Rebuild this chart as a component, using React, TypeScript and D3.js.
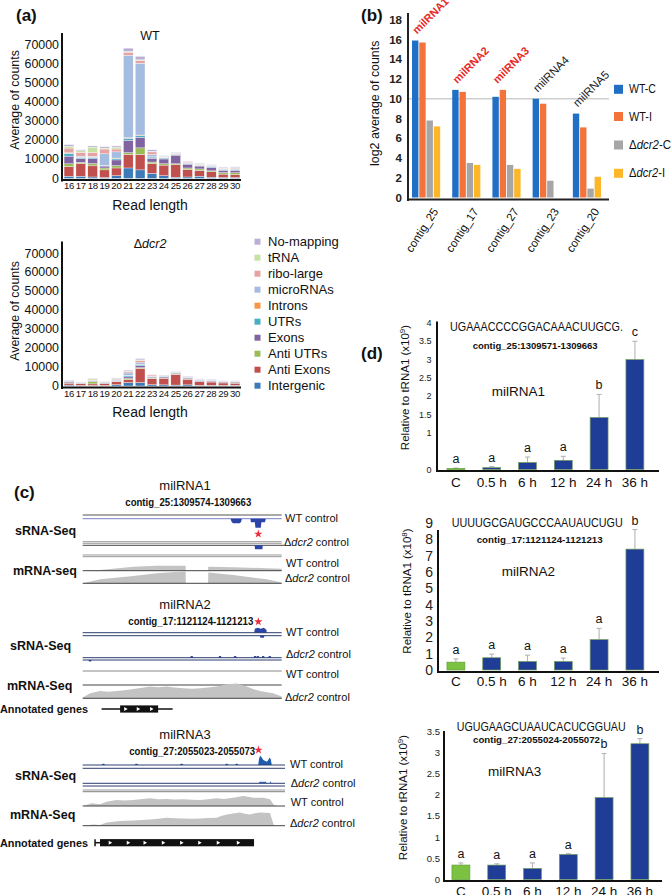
import React from "react";
import * as d3 from "d3";

const FONT = "'Liberation Sans', Arial, Helvetica, sans-serif";

// ---------------- Panel (a) data ----------------
const readLengths = ["16","17","18","19","20","21","22","23","24","25","26","27","28","29","30"];
const stackKeys = ["Intergenic","Anti Exons","Anti UTRs","Exons","UTRs","Introns","microRNAs","ribo-large","tRNA","No-mapping"];
const stackColors = ["#3d7ab8","#c0504d","#9bbb59","#8064a2","#4bacc6","#f79646","#a4bce0","#e6a3a3","#c7e0a4","#b9afd6"];

const wtIntergenic = [1200,1200,800,500,1500,5500,4500,2700,1500,700,800,1200,700,500,500];
const wtAntiExons = [5000,6500,5800,4000,4000,7000,8000,5000,5500,6500,4000,3000,2800,1800,1500];
const wtAntiUTRs = [1500,700,1200,1000,1200,1000,3500,900,700,500,700,800,500,800,1000];
const wtExons = [4000,2000,2500,1000,3000,6500,5500,2000,2500,4500,2000,1500,1800,1200,1300];
const wtUTRs = [1200,700,500,300,800,1000,1000,600,500,400,400,400,400,400,500];
const wtIntrons = [200,100,100,100,200,300,200,100,100,100,100,100,100,100,100];
const wtMicroRNAs = [300,500,600,6000,3200,43000,37500,1200,300,200,300,300,300,300,400];
const wtRiboLarge = [2500,2000,2200,2500,1500,1700,1500,1400,300,300,300,200,200,200,300];
const wtTRNA = [1000,800,2700,500,1000,400,300,300,200,100,100,100,100,100,100];
const wtNoMapping = [800,500,600,700,600,1700,1800,800,300,300,400,400,300,400,400];

const dcrIntergenic = [500,300,300,300,700,1800,1800,700,600,500,600,400,400,300,400];
const dcrAntiExons = [1000,900,800,900,1500,1500,7500,3200,3500,5500,3000,1800,1700,1300,1100];
const dcrAntiUTRs = [200,100,1200,200,300,600,400,300,200,300,300,200,200,200,300];
const dcrExons = [700,200,300,300,400,900,1000,500,600,500,500,500,400,400,400];
const dcrUTRs = [100,100,100,100,200,800,600,200,200,200,200,200,200,100,200];
const dcrIntrons = [0,0,0,0,0,100,100,0,0,0,0,0,0,0,0];
const dcrMicroRNAs = [200,100,200,200,300,1200,900,300,200,200,100,200,200,200,200];
const dcrRiboLarge = [200,100,300,300,400,700,1200,600,200,200,200,200,200,200,100];
const dcrTRNA = [0,0,600,100,100,300,300,100,100,0,0,100,0,0,0];
const dcrNoMapping = [200,200,200,100,300,500,700,300,200,200,200,200,200,200,200];

const countTicks = [0,10000,20000,30000,40000,50000,60000,70000];

// ---------------- Panel (b) data ----------------
const contigs = ["contig_25","contig_17","contig_27","contig_23","contig_20"];
const bSeries = ["WT-C","WT-I","dcr2-C","dcr2-I"];
const bColors = ["#1f6fc5","#f4733b","#a6a6a6","#fdb628"];
const wtC = [15.9,10.9,10.2,10.0,8.5];
const wtI = [15.7,10.7,10.9,9.5,7.1];
const dcrC = [7.8,3.5,3.3,1.7,0.9];
const dcrI = [7.2,3.3,2.9,0,2.1];
const milLabels = ["milRNA1","milRNA2","milRNA3","milRNA4","milRNA5"];
const milHighlight = [true,true,true,false,false];
const log2Ticks = [0,2,4,6,8,10,12,14,16,18];

// ---------------- Panel (c) data (coverage: [position %, coverage]) ----------------
const m1sWT: [number,number][] = [[74.3,0],[74.8,3],[75.5,4.5],[79,4.5],[79.6,3],[80,0],[84.3,0],[84.5,3.5],[86.5,3.5],[86.8,9],[89.5,9],[89.8,3.5],[91.6,3.5],[92,0]];
const m1sDcr: [number,number][] = [[86.4,0],[86.6,4],[90.3,4],[90.5,0]];
const m1mWT: [number,number][] = [[0,0],[8.7,0.7],[25.5,4],[37,5],[51.7,5],[51.8,0],[63,0],[63.1,4],[75.7,3.5],[92.5,2.5],[100,2]];
const m1mDcr: [number,number][] = [[0,0],[8.7,4],[25.5,7.3],[37.2,10],[50.6,11.7],[51.7,11.7],[51.8,0],[63,0],[63.1,10.7],[75.7,8.3],[92.5,4],[100,0.7]];

const m2sWTup: [number,number][] = [[86.2,0],[86.5,4],[88,5],[89.5,4],[91,5],[92.3,3],[92.5,0]];
const m2sWTdown: [number,number][] = [[89,0],[89.3,2],[91,2],[91.3,0]];
const m2sDcrBumps = [54.8,69,76.6,86.6,88,90.7,94];
const m2sDcrDownBumps = [3.7];
const m2mWT: [number,number][] = [[0,2],[100,2]];
const m2mDcr: [number,number][] = [[0,0.7],[3.7,5],[8.7,7.3],[13,6.5],[17,7.3],[21,8],[25.5,9.3],[30,10.5],[33.8,11.7],[38,11],[42.2,11.7],[46,10.8],[50.6,10],[55,9.5],[59,10],[63,10.8],[67.3,11.7],[72.4,14],[77.4,14.7],[82.4,11.7],[86,9],[89.1,7.3],[95.8,5],[100,1.7]];

const m3sWT: [number,number][] = [[88.2,0],[88.6,6],[89.1,9.3],[89.8,8],[90.8,5],[92.5,3.3],[93.3,5],[93.8,7.3],[94.5,6],[95,0]];
const m3sWTBumps = [10.4,27,49.7,72.4,77.4];
const m3sDcr: [number,number][] = [[88.5,0],[88.8,1.5],[92,1.5],[92.5,0],[94,0],[94.3,2.2],[94.8,0]];
const m3mWT: [number,number][] = [[0,0],[4.5,2.7],[8.7,1.7],[12,4.3],[17,6],[21,5.5],[25.5,6],[30,7],[33.8,7.7],[38,6.8],[42.2,7],[46,6.5],[50.6,6.7],[55,6.2],[59,6],[63,6.8],[67.3,7.7],[71,7],[75.7,8.3],[80.7,10],[85.8,8.3],[90.8,8.3],[94.1,6.7],[96.1,1],[97.5,0]];
const m3mDcr: [number,number][] = [[0,0],[5.4,1.3],[8.7,0.7],[12,3.3],[18.8,4.7],[25.5,5.3],[30,5.8],[33.8,6.3],[38,7],[42.2,8],[46,7.5],[50.6,7.3],[55,7],[59,7.3],[63,7.6],[67.3,8],[70,10],[72.4,11.3],[75.7,12.3],[79,13.3],[81.5,12],[84,11.3],[86.5,12.5],[89.1,13.3],[94.1,12.7],[95.5,4],[96.1,0]];

const gene2Line = [9.5,45.2];
const gene2Box = [18.8,37.9];
const gene2Arrows = [21.6,27.9,34.6];
const gene3Line = [6.2,8.7];
const gene3Box = [8.7,86.1];
const gene3Arrows = [13.8,22.9,31.3,40.5,49.7,58.8,68.1,78.2];

// ---------------- Panel (d) data ----------------
const timepoints = ["C","0.5 h","6 h","12 h","24 h","36 h"];
const mil1Mean = [0.03,0.05,0.19,0.25,1.42,3.0];
const mil1Sd = [0.01,0.03,0.15,0.11,0.63,0.5];
const mil1Letters = ["a","a","a","a","b","c"];
const mil2Mean = [0.48,0.75,0.52,0.52,1.86,7.4];
const mil2Sd = [0.2,0.22,0.39,0.21,0.69,1.2];
const mil2Letters = ["a","a","a","a","a","b"];
const mil3Mean = [0.34,0.34,0.26,0.59,1.93,3.2];
const mil3Sd = [0.05,0.03,0.13,0.02,1.04,0.12];
const mil3Letters = ["a","a","a","a","b","b"];
const mil1Ticks = [0,1,1.5,2,2.5,3,3.5,4];
const mil2Ticks = [0,1,2,3,4,5,6,7,8,9];
const mil3Ticks = [0,0.5,1,1.5,2,2.5,3,3.5];

// ======================================================
function Dcr({ pre = "", post = "" }: { pre?: string; post?: string }) {
  return (<>{pre}Δ<tspan fontStyle="italic">dcr2</tspan>{post}</>);
}

function StackedPanel({ series, yZero, yTop, axisTop, title, titleY, tickY, readY, ylabY }: any) {
  const x = d3.scaleBand().domain(readLengths).range([63, 241]).paddingInner(0.18).paddingOuter(0.09);
  const y = d3.scaleLinear().domain([0, 70000]).range([yZero, yTop]);
  const rows = readLengths.map((r, i) => {
    const o: any = { len: r };
    stackKeys.forEach((k, j) => { o[k] = series[j][i]; });
    return o;
  });
  const stacked = d3.stack<any>().keys(stackKeys)(rows);
  return (
    <g>
      {stacked.map((layer, li) => (
        <g key={li} fill={stackColors[li]}>
          {layer.map((d, i) => {
            const h = y(d[0]) - y(d[1]);
            if (h <= 0) return null;
            return <rect key={i} x={x(readLengths[i])} y={y(d[1])} width={x.bandwidth()} height={h} stroke="#fff" strokeWidth={0.35} />;
          })}
        </g>
      ))}
      <line x1={62} x2={62} y1={axisTop} y2={yZero + 3} stroke="#111" strokeWidth={2} />
      <line x1={61} x2={241} y1={yZero + 1.5} y2={yZero + 1.5} stroke="#111" strokeWidth={2} />
      {countTicks.map(t => (
        <text key={t} x={59} y={y(t)} textAnchor="end" dominantBaseline="central" fontSize={12.4}>{t}</text>
      ))}
      {readLengths.map(r => (
        <text key={r} x={(x(r) as number) + x.bandwidth() / 2} y={tickY} textAnchor="middle" fontSize={9.6} letterSpacing={-0.3}>{r}</text>
      ))}
      <text x={150} y={readY} textAnchor="middle" fontSize={14}>Read length</text>
      <text transform={`translate(19,${ylabY}) rotate(-90)`} textAnchor="middle" fontSize={12.4}>Average of counts</text>
      <text x={150} y={titleY} textAnchor="middle" fontSize={12.5}>{title}</text>
    </g>
  );
}

function PanelA() {
  const wt = [wtIntergenic, wtAntiExons, wtAntiUTRs, wtExons, wtUTRs, wtIntrons, wtMicroRNAs, wtRiboLarge, wtTRNA, wtNoMapping];
  const dcr = [dcrIntergenic, dcrAntiExons, dcrAntiUTRs, dcrExons, dcrUTRs, dcrIntrons, dcrMicroRNAs, dcrRiboLarge, dcrTRNA, dcrNoMapping];
  const legendOrder = [...stackKeys].reverse();
  return (
    <g>
      <text x={16} y={21} fontSize={17} fontWeight="bold">(a)</text>
      <StackedPanel series={wt} yZero={178.5} yTop={44.5} axisTop={33} title="WT" titleY={39.5} tickY={188.8} readY={210} ylabY={100} />
      <StackedPanel series={dcr} yZero={386} yTop={253.5} axisTop={241.5} title={<Dcr />} titleY={247.5} tickY={397} readY={416.5} ylabY={311} />
      {legendOrder.map((k, i) => {
        const cy = 241.7 + i * 16;
        return (
          <g key={k}>
            <rect x={254.5} y={cy - 3} width={6} height={6} fill={stackColors[stackKeys.indexOf(k)]} />
            <text x={268} y={cy} dominantBaseline="central" fontSize={13}>{k}</text>
          </g>
        );
      })}
    </g>
  );
}

function PanelB() {
  const xb = d3.scaleBand().domain(contigs).range([408, 605]).paddingInner(0.3).paddingOuter(0.1);
  const xs = d3.scaleBand().domain(bSeries).range([0, xb.bandwidth()]).paddingInner(0.12);
  const yb = d3.scaleLinear().domain([0, 18]).range([197.5, 19.8]);
  const vals = [wtC, wtI, dcrC, dcrI];
  const legendLabels = [<>WT-C</>, <>WT-I</>, <Dcr post="-C" />, <Dcr post="-I" />];
  const legendLen = [27, 23, 42, 36];
  const legendY = [89.3, 116.5, 145, 173.3];
  return (
    <g>
      <text x={361} y={21} fontSize={17} fontWeight="bold">(b)</text>
      <line x1={408} x2={609} y1={yb(10)} y2={yb(10)} stroke="#cfcfcf" strokeWidth={1.5} />
      {contigs.map((c, ci) => (
        <g key={c}>
          {bSeries.map((s, si) => {
            const v = vals[si][ci];
            if (v <= 0) return null;
            return <rect key={s} x={(xb(c) as number) + (xs(s) as number)} y={yb(v)} width={xs.bandwidth()} height={yb(0) - yb(v)} fill={bColors[si]} />;
          })}
        </g>
      ))}
      <line x1={408} x2={408} y1={13} y2={201} stroke="#222" strokeWidth={2} />
      <line x1={407} x2={609} y1={199.5} y2={199.5} stroke="#222" strokeWidth={2} />
      {log2Ticks.map(t => (
        <text key={t} x={402} y={yb(t)} textAnchor="end" dominantBaseline="central" fontSize={11.5} fontWeight="bold" fill="#222">{t}</text>
      ))}
      <text transform={`translate(378.5,103.3) rotate(-90)`} textAnchor="middle" fontSize={12.4}>log2 average of counts</text>
      {contigs.map((c, ci) => {
        const cx = (xb(c) as number) + xb.bandwidth() / 2;
        return <text key={c} transform={`translate(${cx + 6},207) rotate(-57)`} textAnchor="end" dominantBaseline="hanging" fontSize={11.5}>{c}</text>;
      })}
      {contigs.map((c, ci) => {
        const top = yb(Math.max(wtC[ci], wtI[ci]));
        const x0 = (xb(c) as number) + 5;
        return (
          <text key={c} transform={`translate(${x0},${top - 6}) rotate(-45)`} fontSize={milHighlight[ci] ? 11 : 11.5}
            fontWeight={milHighlight[ci] ? "bold" : "normal"} fill={milHighlight[ci] ? "#e82a24" : "#222"}>{milLabels[ci]}</text>
        );
      })}
      {bSeries.map((s, i) => (
        <g key={s}>
          <rect x={614} y={legendY[i] - 4.5} width={9} height={9} fill={bColors[i]} />
          <text x={629} y={legendY[i]} dominantBaseline="central" fontSize={12.5} textLength={legendLen[i]} lengthAdjust="spacingAndGlyphs">{legendLabels[i]}</text>
        </g>
      ))}
    </g>
  );
}

// ---------------- Panel (c) ----------------
const tx = d3.scaleLinear().domain([0, 100]).range([82.7, 281.7]);
const cov = d3.scaleLinear().domain([0, 15]).range([0, 15]);

function Cov({ data, base, down = false, fill }: { data: [number, number][]; base: number; down?: boolean; fill: string }) {
  const a = d3.area<[number, number]>()
    .x(d => tx(d[0]))
    .y0(base)
    .y1(d => (down ? base + cov(d[1]) : base - cov(d[1])));
  return <path d={a(data) || ""} fill={fill} />;
}

function Bumps({ centers, base, h, down = false, fill }: any) {
  return (
    <>
      {centers.map((c: number, i: number) => (
        <Cov key={i} data={[[c - 0.9, 0], [c - 0.4, h], [c + 0.4, h], [c + 0.9, 0]]} base={base} down={down} fill={fill} />
      ))}
    </>
  );
}

function HLine({ y, color = "#333", w = 1, x2 = 281.7 }: any) {
  return <line x1={tx(0)} x2={x2} y1={y} y2={y} stroke={color} strokeWidth={w} />;
}

function Gene({ line, box, arrows, y, tick = false }: any) {
  return (
    <g>
      <line x1={tx(line[0])} x2={tx(line[1])} y1={y} y2={y} stroke="#111" strokeWidth={1.5} />
      {tick && <line x1={tx(line[0])} x2={tx(line[0])} y1={y - 3.5} y2={y + 3.5} stroke="#111" strokeWidth={1.5} />}
      <rect x={tx(box[0])} y={y - 3.6} width={tx(box[1]) - tx(box[0])} height={7.2} fill="#111" />
      {arrows.map((a: number, i: number) => {
        const cx = tx(a);
        return <path key={i} d={`M${cx - 1.5},${y - 2}L${cx + 2},${y}L${cx - 1.5},${y + 2}Z`} fill="#fff" />;
      })}
    </g>
  );
}

function Star({ x, y }: { x: number; y: number }) {
  const p = d3.symbol().type(d3.symbolStar).size(22)();
  return <path d={p || ""} transform={`translate(${x},${y})`} fill="#ee2a3a" />;
}

const BLUE = "#2a44a8";
const GRAY = "#c3c3c3";
const NAVY = "#2c3e6e";

function PanelC() {
  const lab = { fontSize: 11, fill: "#111" } as any;
  return (
    <g>
      <text x={14} y={498} fontSize={17} fontWeight="bold">(c)</text>

      {/* milRNA1 */}
      <text x={185} y={489.5} textAnchor="middle" fontSize={13}>milRNA1</text>
      <text x={188.3} y={506} textAnchor="middle" fontSize={10} fontWeight="bold" textLength={126} lengthAdjust="spacingAndGlyphs">contig_25:1309574-1309663</text>
      <text x={15} y={534.5} fontSize={12.5} fontWeight="bold">sRNA-Seq</text>
      <text x={13} y={574.5} fontSize={12.5} fontWeight="bold">mRNA-seq</text>
      <HLine y={515} color="#555" />
      <HLine y={518.7} color="#7b80c8" />
      <Cov data={m1sWT} base={518.7} down fill={BLUE} />
      <Star x={258.3} y={534} />
      <HLine y={541.7} color="#999" />
      <HLine y={543.3} color="#999" />
      <HLine y={545.3} color="#444" x2={284} />
      <Cov data={m1sDcr} base={545.3} down fill={BLUE} />
      <HLine y={555} color="#999" />
      <HLine y={556.7} color="#999" />
      <Cov data={m1mWT} base={570.7} fill={GRAY} />
      <HLine y={570.7} color="#444" />
      <Cov data={m1mDcr} base={583.3} fill={GRAY} />
      <HLine y={583.3} color="#444" />
      <text x={285} y={521.5} {...lab}>WT control</text>
      <text x={284} y={546} {...lab}><Dcr post=" control" /></text>
      <text x={286} y={566.5} {...lab}>WT control</text>
      <text x={285} y={582} {...lab}><Dcr post=" control" /></text>

      {/* milRNA2 */}
      <text x={185} y={608.8} textAnchor="middle" fontSize={13}>milRNA2</text>
      <text x={190.8} y={624.5} textAnchor="middle" fontSize={10} fontWeight="bold" textLength={125} lengthAdjust="spacingAndGlyphs">contig_17:1121124-1121213</text>
      <Star x={258.3} y={621.7} />
      <text x={10} y={649.5} fontSize={12.5} fontWeight="bold">sRNA-Seq</text>
      <text x={7} y={689.5} fontSize={12.5} fontWeight="bold">mRNA-Seq</text>
      <Cov data={m2sWTup} base={632.7} fill={BLUE} />
      <Cov data={m2sWTdown} base={635.7} down fill={BLUE} />
      <HLine y={632.7} color={NAVY} />
      <HLine y={635.7} color={NAVY} />
      <Bumps centers={m2sDcrBumps} base={657.7} h={1.6} fill={BLUE} />
      <Bumps centers={m2sDcrDownBumps} base={660} h={1.6} down fill={BLUE} />
      <HLine y={657.7} color={NAVY} />
      <HLine y={660} color={NAVY} />
      <Cov data={m2mWT} base={672} fill={GRAY} />
      <HLine y={685} color="#444" />
      <Cov data={m2mDcr} base={698.3} fill={GRAY} />
      <HLine y={698.3} color="#444" />
      <text x={286} y={635.5} {...lab}>WT control</text>
      <text x={286} y={658} {...lab}><Dcr post=" control" /></text>
      <text x={286} y={678} {...lab}>WT control</text>
      <text x={285} y={700.5} {...lab}><Dcr post=" control" /></text>
      <text x={0} y={713} fontSize={11} fontWeight="bold" textLength={88} lengthAdjust="spacingAndGlyphs">Annotated genes</text>
      <Gene line={gene2Line} box={gene2Box} arrows={gene2Arrows} y={709} />

      {/* milRNA3 */}
      <text x={185} y={739} textAnchor="middle" fontSize={13}>milRNA3</text>
      <text x={192.2} y={755} textAnchor="middle" fontSize={10} fontWeight="bold" textLength={126} lengthAdjust="spacingAndGlyphs">contig_27:2055023-2055073</text>
      <Star x={258.5} y={750} />
      <text x={15} y={779.5} fontSize={12.5} fontWeight="bold">sRNA-Seq</text>
      <text x={10} y={818.5} fontSize={12.5} fontWeight="bold">mRNA-Seq</text>
      <Cov data={m3sWT} base={765} fill="#1f5cb0" />
      <Bumps centers={m3sWTBumps} base={765} h={1.3} fill="#1f5cb0" />
      <HLine y={765} color={NAVY} x2={285} />
      <HLine y={768.3} color={NAVY} x2={285} />
      <Cov data={m3sDcr} base={783.3} fill="#2f6fd0" />
      <HLine y={783.3} color={NAVY} x2={285} />
      <HLine y={786} color={NAVY} x2={285} />
      <HLine y={790} color="#999" x2={285} w={1.2} />
      <HLine y={791.7} color="#999" x2={285} w={1.2} />
      <Cov data={m3mWT} base={806} fill={GRAY} />
      <HLine y={806} color="#444" x2={285} />
      <Cov data={m3mDcr} base={825.7} fill={GRAY} />
      <HLine y={825.7} color="#444" x2={285} />
      <text x={290} y={768} {...lab}>WT control</text>
      <text x={290.7} y={787} {...lab}><Dcr post=" control" /></text>
      <text x={290.7} y={806} {...lab}>WT control</text>
      <text x={290} y={827} {...lab}><Dcr post=" control" /></text>
      <text x={0} y={846.7} fontSize={11} fontWeight="bold" textLength={88} lengthAdjust="spacingAndGlyphs">Annotated genes</text>
      <Gene line={gene3Line} box={gene3Box} arrows={gene3Arrows} y={842.7} tick />
    </g>
  );
}

// ---------------- Panel (d) ----------------
function DPanel(p: any) {
  const x = d3.scaleBand().domain(timepoints).range([p.bandX0, p.bandX0 + 214.8]).paddingInner(0.5).paddingOuter(0.25);
  const y = d3.scaleLinear().domain([0, p.yMax]).range([p.zeroY, p.topY]);
  return (
    <g>
      {timepoints.map((t, i) => {
        const x0 = x(t) as number;
        const cx = x0 + x.bandwidth() / 2;
        const m = p.means[i];
        const e = m + p.sds[i];
        return (
          <g key={t}>
            <line x1={cx} x2={cx} y1={y(m)} y2={y(e)} stroke={p.errColor} strokeWidth={1.1} />
            <line x1={cx - 2.5} x2={cx + 2.5} y1={y(e)} y2={y(e)} stroke={p.errColor} strokeWidth={1.1} />
            <rect x={x0} y={y(m)} width={x.bandwidth()} height={y(0) - y(m)}
              fill={i === 0 ? "#7cc242" : "#1f3c96"} stroke={i === 0 ? "#5f9f35" : "#6f9a5a"} strokeWidth={0.7} />
            <text x={cx} y={y(e) - 5} textAnchor="middle" fontSize={12.5} fill="#111">{p.letters[i]}</text>
            <text x={cx} y={p.catY} textAnchor="middle" fontSize={13.5} fill="#111">{t}</text>
          </g>
        );
      })}
      <line x1={p.axisX} x2={p.axisX} y1={p.axisTop} y2={p.axisBottom + 1} stroke="#111" strokeWidth={2} />
      <line x1={p.axisX - 1} x2={p.xEnd} y1={p.axisBottom} y2={p.axisBottom} stroke="#111" strokeWidth={2} />
      {p.ticks.map((t: number) => (
        <text key={t} x={p.tickX} y={y(t)} textAnchor="end" dominantBaseline="central" fontSize={p.tickFont} fill="#222">{t}</text>
      ))}
      <text x={p.seqX} y={p.seqY} fontSize={12.5} textLength={p.seqLen} lengthAdjust="spacingAndGlyphs">{p.seq}</text>
      <text x={p.contigX} y={p.contigY} fontSize={9.5} fontWeight="bold" textLength={p.contigLen} lengthAdjust="spacingAndGlyphs">{p.contig}</text>
      <text x={p.nameX} y={p.nameY} fontSize={13.5}>{p.name}</text>
      <text transform={`translate(${p.ylabX},${p.ylabCY}) rotate(-90)`} textAnchor="middle" fontSize={11.5}>
        Relative to tRNA1 (x10<tspan dy={-4.5} fontSize={8}>{p.exp}</tspan><tspan dy={4.5}>)</tspan>
      </text>
    </g>
  );
}

function PanelD() {
  return (
    <g>
      <text x={361} y={359} fontSize={17} fontWeight="bold">(d)</text>
      <DPanel means={mil1Mean} sds={mil1Sd} letters={mil1Letters} yMax={4} zeroY={469.5} topY={323}
        ticks={mil1Ticks} tickFont={9} tickX={431.5} axisX={437} axisTop={321.5} axisBottom={471} xEnd={659}
        bandX0={438} catY={486.5} errColor="#b5b5b5"
        seq="UGAAACCCCGGACAAACUUGCG." seqX={450} seqY={331} seqLen={173}
        contig="contig_25:1309571-1309663" contigX={472.7} contigY={348.5} contigLen={125}
        name="milRNA1" nameX={491.7} nameY={396} ylabX={409} ylabCY={387.5} exp="9" />
      <DPanel means={mil2Mean} sds={mil2Sd} letters={mil2Letters} yMax={9} zeroY={670} topY={523}
        ticks={mil2Ticks} tickFont={14} tickX={433} axisX={438} axisTop={530} axisBottom={672} xEnd={659}
        bandX0={438} catY={685.5} errColor="#b5b5b5"
        seq="UUUUGCGAUGCCCAAUAUCUGU" seqX={451.7} seqY={527} seqLen={171}
        contig="contig_17:1121124-1121213" contigX={476.7} contigY={542.5} contigLen={126}
        name="milRNA2" nameX={501.7} nameY={576} ylabX={411} ylabCY={591} exp="8" />
      <DPanel means={mil3Mean} sds={mil3Sd} letters={mil3Letters} yMax={3.5} zeroY={879.5} topY={731}
        ticks={mil3Ticks} tickFont={9.5} tickX={440} axisX={444} axisTop={731} axisBottom={881} xEnd={662}
        bandX0={443} catY={895.5} errColor="#b5b5b5"
        seq="UGUGAAGCUAAUCACUCGGUAU" seqX={456.7} seqY={731} seqLen={169}
        contig="contig_27:2055024-2055072" contigX={473} contigY={742.8} contigLen={127}
        name="milRNA3" nameX={488} nameY={776} ylabX={407} ylabCY={797.5} exp="9" />
    </g>
  );
}

export default function App() {
  return (
    <svg width={672} height={895} viewBox="0 0 672 895"
      style={{ position: "absolute", left: 0, top: 0, background: "#fff" }}
      fontFamily={FONT} fill="#111">
      <rect x={0} y={0} width={672} height={895} fill="#fff" />
      <PanelA />
      <PanelB />
      <PanelC />
      <PanelD />
    </svg>
  );
}
